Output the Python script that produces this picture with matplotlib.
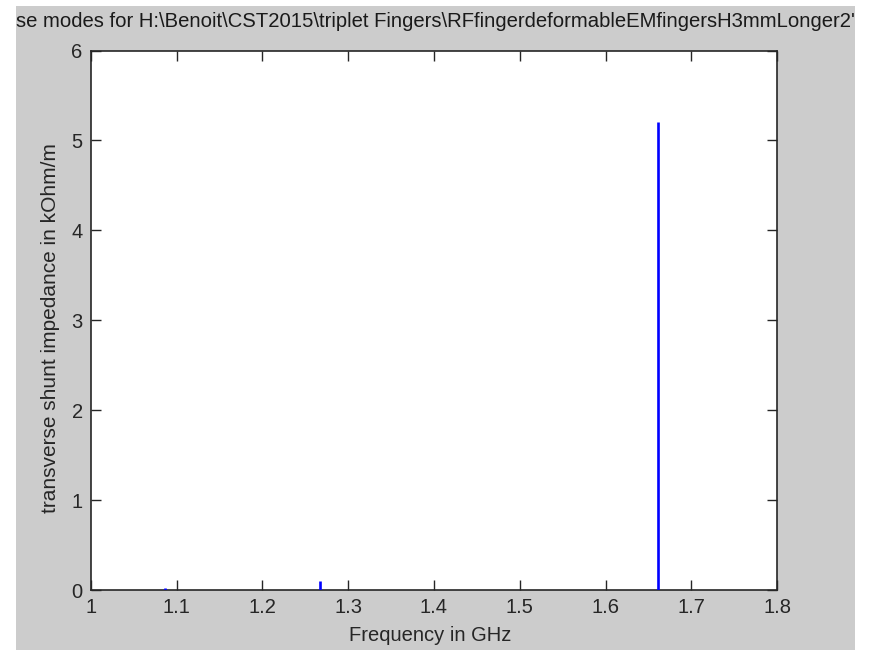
#!/usr/bin/env python3

# Transverse shunt impedance of the modes found in the CST run, drawn as stems

import numpy as np
import matplotlib.pyplot as plt
from matplotlib.patches import Rectangle

plt.rcParams['font.family'] = ['Liberation Sans', 'DejaVu Sans']

freq_ghz = [1.086, 1.267, 1.661]
r_shunt_kohm = [0.02, 0.10, 5.20]

xticks = [1, 1.1, 1.2, 1.3, 1.4, 1.5, 1.6, 1.7, 1.8]
xticklabels = ['1', '1.1', '1.2', '1.3', '1.4', '1.5', '1.6', '1.7', '1.8']
yticks = [0, 1, 2, 3, 4, 5, 6]

title_txt = r'se modes for H:\Benoit\CST2015\triplet Fingers\RFfingerdeformableEMfingersH3mmLonger2' + "'"

W, H = 871, 651
fig = plt.figure(figsize=(W / 100, H / 100), dpi=100, facecolor='white')

# grey window area
bg = Rectangle((16 / W, 1 - 650 / H), (855 - 16) / W, (650 - 6) / H,
               transform=fig.transFigure, facecolor='#cccccc', edgecolor='none', zorder=-10)
fig.patches.append(bg)

ax = fig.add_axes([91 / W, 1 - 590 / H, (777 - 91) / W, (590 - 50.5) / H])
ax.set_facecolor('white')

ax.vlines(freq_ghz, 0, r_shunt_kohm, colors='#0000ff', linewidth=1.9, zorder=3)

ax.set_xlim(1, 1.8)
ax.set_ylim(0, 6)
ax.set_xticks(xticks)
ax.set_xticklabels(xticklabels)
ax.set_yticks(yticks)
ax.tick_params(direction='in', length=7, width=1, colors='#262626', labelsize=14.5,
               top=True, right=True, pad=6)
for s in ax.spines.values():
    s.set_linewidth(1.2)
    s.set_color('#262626')

ax.set_xlabel('Frequency in GHz', fontsize=14.5, color='#262626')
ax.set_ylabel('transverse shunt impedance in kOhm/m', fontsize=15, color='#262626')
ax.xaxis.set_label_coords(0.494, -0.066)
ax.yaxis.set_label_coords(-0.045, 0.485)

t = fig.text(16 / W, 1 - 27 / H, title_txt, fontsize=14.6, color='#1a1a1a',
             ha='left', va='baseline')
t.set_clip_path(bg)

fig.savefig('out.png', dpi=100, facecolor='white')
